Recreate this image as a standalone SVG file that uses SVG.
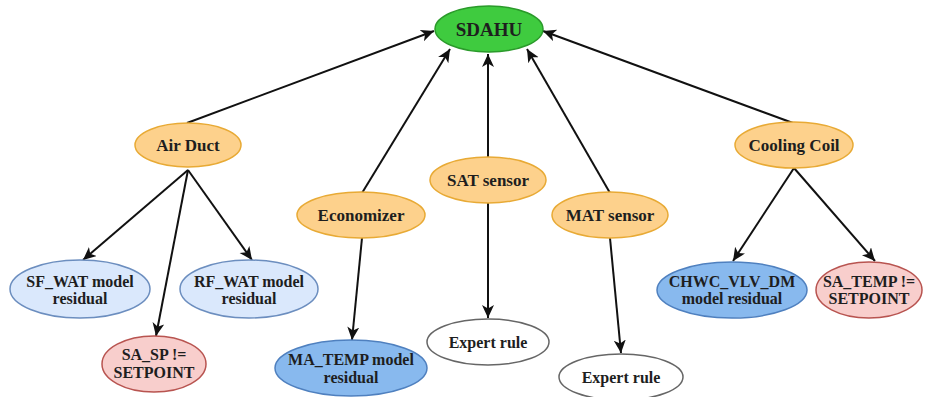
<svg xmlns="http://www.w3.org/2000/svg" width="925" height="397" viewBox="0 0 925 397">
<style>
text{font-weight:bold;fill:#1e1e1e;text-anchor:middle}
.t1{font-size:17px}
.t2{font-size:16px}
.root{fill:#3fcb3f;stroke:#2a9a2a;stroke-width:1.5}
.org{fill:#fdd18c;stroke:#e8aa35;stroke-width:1.5}
.lb{fill:#dae8fc;stroke:#6c8ebf;stroke-width:1.5}
.db{fill:#88b9ee;stroke:#4f80bf;stroke-width:1.5}
.rd{fill:#f8cecc;stroke:#b85450;stroke-width:1.5}
.wh{fill:#ffffff;stroke:#666666;stroke-width:1.5}
.edge{stroke:#111;stroke-width:2;fill:none;marker-end:url(#arr)}
</style>
<defs>
<marker id="arr" markerUnits="userSpaceOnUse" markerWidth="16" markerHeight="14" refX="13" refY="6" orient="auto">
<path d="M0,0 L13,6 L0,12 L3.5,6 z" fill="#111"/>
</marker>
</defs>
<g id="connectors">
<line class="edge" x1="187" y1="123" x2="434" y2="31"/>
<line class="edge" x1="362" y1="193" x2="450" y2="49"/>
<line class="edge" x1="488" y1="158" x2="488" y2="54"/>
<line class="edge" x1="610" y1="193" x2="527" y2="49"/>
<line class="edge" x1="793" y1="123" x2="543" y2="31"/>
<line class="edge" x1="188" y1="170" x2="83" y2="260"/>
<line class="edge" x1="188" y1="170" x2="156" y2="336"/>
<line class="edge" x1="188" y1="170" x2="252" y2="260"/>
<line class="edge" x1="362" y1="238" x2="352" y2="340"/>
<line class="edge" x1="488" y1="203" x2="488" y2="318"/>
<line class="edge" x1="610" y1="238" x2="621" y2="353"/>
<line class="edge" x1="794" y1="168" x2="733" y2="261"/>
<line class="edge" x1="794" y1="168" x2="875" y2="261"/>
</g>
<g font-family="'Liberation Serif', 'DejaVu Serif', serif">
<g id="sdahu"><ellipse class="root" cx="489" cy="29" rx="54" ry="23"/><text x="489" y="36" font-size="19">SDAHU</text></g>
<g id="air-duct"><ellipse class="org" cx="188" cy="145" rx="53" ry="22"/><text class="t1" x="188" y="151">Air Duct</text></g>
<g id="economizer"><ellipse class="org" cx="361" cy="215" rx="64" ry="23"/><text class="t1" x="361" y="221">Economizer</text></g>
<g id="sat-sensor"><ellipse class="org" cx="488" cy="180" rx="58" ry="23"/><text class="t1" x="488" y="186">SAT sensor</text></g>
<g id="mat-sensor"><ellipse class="org" cx="610" cy="215" rx="58" ry="23"/><text class="t1" x="610" y="221">MAT sensor</text></g>
<g id="cooling-coil"><ellipse class="org" cx="794" cy="145" rx="59" ry="23"/><text class="t1" x="794" y="151">Cooling Coil</text></g>
<g id="sf-wat"><ellipse class="lb" cx="80" cy="289" rx="70" ry="29"/><text class="t2" x="80" y="287">SF_WAT model</text><text class="t2" x="80" y="304">residual</text></g>
<g id="rf-wat"><ellipse class="lb" cx="249" cy="289" rx="69" ry="29"/><text class="t2" x="249" y="287">RF_WAT model</text><text class="t2" x="249" y="304">residual</text></g>
<g id="sa-sp"><ellipse class="rd" cx="154" cy="364" rx="52" ry="28"/><text class="t2" x="154" y="360">SA_SP !=</text><text class="t2" x="154" y="378">SETPOINT</text></g>
<g id="ma-temp"><ellipse class="db" cx="351" cy="368" rx="76" ry="28"/><text class="t2" x="351" y="365">MA_TEMP model</text><text class="t2" x="351" y="383">residual</text></g>
<g id="expert-rule-1"><ellipse class="wh" cx="488" cy="342" rx="61" ry="23"/><text class="t2" x="488" y="348">Expert rule</text></g>
<g id="expert-rule-2"><ellipse class="wh" cx="621" cy="377" rx="62" ry="23"/><text class="t2" x="621" y="383">Expert rule</text></g>
<g id="chwc"><ellipse class="db" cx="732" cy="290" rx="75" ry="28"/><text class="t2" x="732" y="287">CHWC_VLV_DM</text><text class="t2" x="732" y="304">model residual</text></g>
<g id="sa-temp"><ellipse class="rd" cx="869" cy="290" rx="53" ry="28"/><text class="t2" x="869" y="287">SA_TEMP !=</text><text class="t2" x="869" y="304">SETPOINT</text></g>
</g>
</svg>
